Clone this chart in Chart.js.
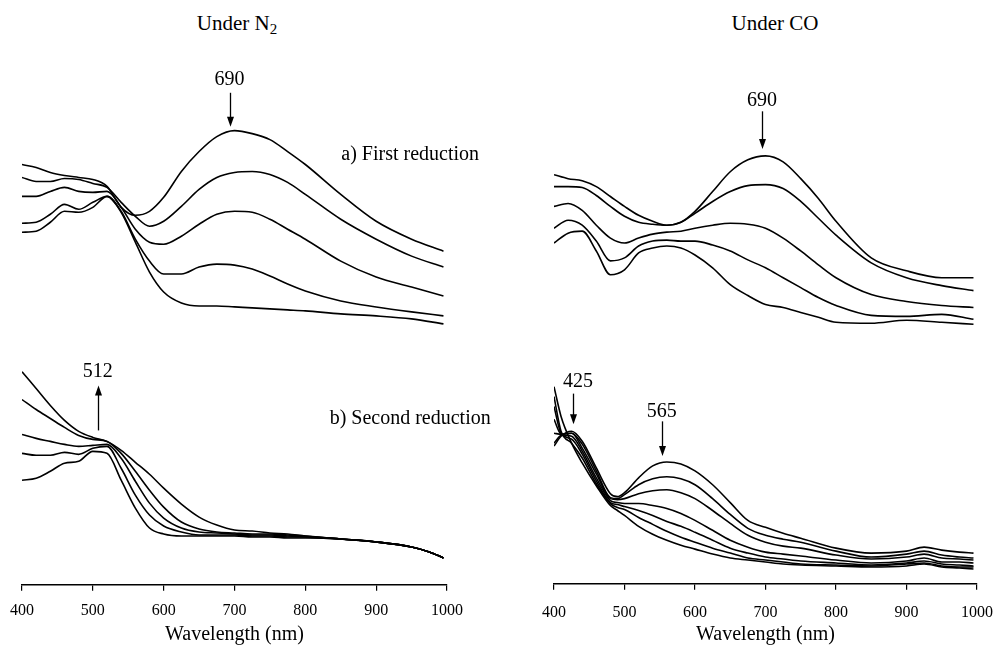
<!DOCTYPE html>
<html>
<head>
<meta charset="utf-8">
<script src="https://cdn.jsdelivr.net/npm/chart.js@4/dist/chart.umd.min.js"></script>
<style>
  html, body { margin:0; padding:0; background:#fff; }
  body { width:997px; height:647px; position:relative; overflow:hidden; font-family:"Liberation Serif","Times New Roman",serif; }
  canvas { position:absolute; top:0; }
  .ttl { position:absolute; top:11px; font-size:21px; color:#000; white-space:nowrap; transform:translateX(-50%); }
  .ttl sub { font-size:15px; vertical-align:-4px; line-height:0; }
</style>
</head>
<body>
<div class="ttl" style="left:237px">Under N<sub>2</sub></div>
<div class="ttl" style="left:775px">Under CO</div>
<canvas id="cN2" width="500" height="647" style="left:0"></canvas>
<canvas id="cCO" width="530" height="647" style="left:500px"></canvas>
<script>
// ---------- Under N2, a) first reduction ----------
const n2FirstWl = [400,420,440,460,480,500,520,540,560,580,600,625,650,675,700,725,750,775,800,850,900,950,995];
const n2First1 = [4.22,4.19,4.14,4.11,4.09,4.07,4.00,3.79,3.71,3.75,3.89,4.15,4.35,4.50,4.56,4.53,4.47,4.35,4.22,3.92,3.65,3.47,3.35];
const n2First2 = [4.09,4.05,4.05,4.08,4.07,4.03,3.99,3.84,3.70,3.60,3.65,3.80,3.97,4.09,4.14,4.15,4.12,4.04,3.92,3.67,3.47,3.30,3.19];
const n2First3 = [3.90,3.90,3.95,3.99,3.95,3.94,3.95,3.79,3.57,3.44,3.42,3.50,3.62,3.72,3.75,3.74,3.67,3.57,3.47,3.25,3.09,2.99,2.90];
const n2First4 = [3.63,3.64,3.72,3.82,3.77,3.84,3.90,3.75,3.47,3.25,3.12,3.12,3.19,3.22,3.21,3.17,3.10,3.02,2.95,2.85,2.79,2.74,2.70];
const n2First5 = [3.54,3.55,3.64,3.75,3.74,3.79,3.90,3.74,3.44,3.14,2.94,2.83,2.80,2.80,2.79,2.78,2.77,2.76,2.75,2.72,2.70,2.67,2.62];

// ---------- Under N2, b) second reduction ----------
const n2SecondWl = [400,420,440,460,480,500,520,540,560,580,600,625,650,675,700,725,750,775,800,850,900,950,975,995];
const n2Second1 = [2.14,1.97,1.80,1.65,1.54,1.48,1.44,1.35,1.23,1.11,0.97,0.81,0.68,0.60,0.55,0.54,0.52,0.51,0.49,0.46,0.43,0.38,0.33,0.27];
const n2Second2 = [1.86,1.76,1.67,1.58,1.50,1.46,1.44,1.32,1.14,0.95,0.78,0.63,0.56,0.53,0.52,0.51,0.51,0.50,0.49,0.46,0.43,0.38,0.33,0.27];
const n2Second3 = [1.51,1.47,1.44,1.41,1.39,1.40,1.41,1.27,1.04,0.82,0.67,0.57,0.53,0.52,0.51,0.50,0.50,0.49,0.48,0.46,0.43,0.38,0.33,0.27];
const n2Second4 = [1.32,1.30,1.30,1.33,1.31,1.37,1.39,1.17,0.90,0.70,0.59,0.53,0.50,0.50,0.50,0.49,0.49,0.48,0.48,0.46,0.43,0.38,0.33,0.27];
const n2Second5 = [1.05,1.07,1.14,1.22,1.24,1.34,1.32,1.05,0.77,0.57,0.51,0.49,0.49,0.49,0.49,0.48,0.48,0.47,0.47,0.46,0.43,0.38,0.33,0.27];

// ---------- Under CO, a) first reduction ----------
const coFirstWl = [400,420,440,460,480,500,520,540,560,580,600,625,650,675,700,725,750,775,800,850,900,950,995];
const coFirst1 = [4.13,4.09,4.07,4.01,3.91,3.81,3.72,3.66,3.62,3.65,3.76,3.96,4.16,4.28,4.32,4.26,4.09,3.89,3.66,3.29,3.16,3.09,3.09];
const coFirst2 = [4.01,4.01,4.00,3.92,3.81,3.71,3.65,3.63,3.62,3.65,3.74,3.86,3.96,4.02,4.03,3.99,3.86,3.69,3.52,3.24,3.09,3.01,2.96];
const coFirst3 = [3.81,3.84,3.77,3.62,3.49,3.44,3.49,3.53,3.55,3.56,3.59,3.62,3.64,3.63,3.59,3.49,3.36,3.22,3.09,2.92,2.85,2.81,2.79];
const coFirst4 = [3.59,3.67,3.62,3.46,3.26,3.29,3.41,3.46,3.47,3.46,3.46,3.42,3.36,3.27,3.19,3.09,2.99,2.89,2.81,2.71,2.70,2.72,2.67];
const coFirst5 = [3.44,3.54,3.56,3.36,3.12,3.17,3.34,3.39,3.41,3.39,3.32,3.19,3.02,2.91,2.82,2.79,2.74,2.69,2.64,2.63,2.66,2.64,2.62];

// ---------- Under CO, b) second reduction ----------
const coSecondWl = [400,410,425,440,460,480,490,500,520,540,560,580,600,625,650,675,700,725,750,800,850,900,925,950,975,995];
const coSecond1 = [1.39,1.49,1.54,1.44,1.17,0.91,0.88,0.92,1.07,1.19,1.23,1.21,1.14,1.00,0.82,0.64,0.57,0.51,0.46,0.36,0.31,0.33,0.37,0.34,0.32,0.31];
const coSecond2 = [1.42,1.50,1.52,1.41,1.14,0.87,0.86,0.90,1.00,1.06,1.08,1.06,1.00,0.86,0.70,0.56,0.49,0.45,0.42,0.33,0.27,0.30,0.33,0.29,0.27,0.26];
const coSecond3 = [1.52,1.51,1.52,1.37,1.11,0.86,0.85,0.86,0.91,0.94,0.95,0.92,0.86,0.74,0.61,0.49,0.42,0.38,0.36,0.29,0.25,0.27,0.30,0.26,0.25,0.24];
const coSecond4 = [1.66,1.51,1.49,1.34,1.07,0.84,0.82,0.81,0.81,0.79,0.76,0.71,0.64,0.54,0.44,0.37,0.32,0.30,0.28,0.24,0.21,0.23,0.26,0.22,0.22,0.21];
const coSecond5 = [1.79,1.52,1.46,1.31,1.04,0.82,0.80,0.78,0.74,0.69,0.63,0.58,0.52,0.44,0.36,0.31,0.27,0.25,0.23,0.21,0.19,0.21,0.23,0.20,0.19,0.18];
const coSecond6 = [1.89,1.54,1.42,1.27,1.01,0.81,0.77,0.75,0.67,0.60,0.53,0.47,0.42,0.36,0.31,0.26,0.24,0.22,0.20,0.19,0.18,0.20,0.21,0.18,0.17,0.17];
const coSecond7 = [1.99,1.69,1.42,1.22,0.99,0.79,0.74,0.69,0.58,0.50,0.44,0.39,0.35,0.30,0.26,0.24,0.22,0.20,0.19,0.18,0.17,0.18,0.20,0.17,0.16,0.15];

// ---------- axis ticks and annotations ----------
const xTicks = [400,500,600,700,800,900,1000];
const n2Arrows = [
  {text:'690', nm:693, tail:4.94, tip:4.60, textY:5.07},
  {text:'512', nm:507, tail:1.55, tip:2.00, textY:2.14}
];
const n2Notes = [
  {text:'a) First reduction', nm:948, y:4.32},
  {text:'b) Second reduction', nm:948, y:1.67}
];
const coArrows = [
  {text:'690', nm:695, tail:4.77, tip:4.39, textY:4.88},
  {text:'425', nm:427, tail:1.92, tip:1.61, textY:2.04, textNm:434},
  {text:'565', nm:553, tail:1.64, tip:1.29, textY:1.74}
];
const coNotes = [];

const SERIF = '"Liberation Serif", "Times New Roman", serif';

const arrowPlugin = {
  id: 'arrows',
  afterDatasetsDraw(chart, args, opts) {
    const ctx = chart.ctx, xs = chart.scales.x, ys = chart.scales.y;
    ctx.save();
    ctx.fillStyle = '#000'; ctx.strokeStyle = '#000'; ctx.lineWidth = 1.3;
    ctx.font = '20px ' + SERIF;
    ctx.textAlign = 'center'; ctx.textBaseline = 'middle';
    (opts.arrows || []).forEach(a => {
      const px = Math.round(xs.getPixelForValue(a.nm)) + 0.5;
      const y0 = ys.getPixelForValue(a.tail), y1 = ys.getPixelForValue(a.tip);
      const dir = Math.sign(y1 - y0);
      ctx.beginPath(); ctx.moveTo(px, y0); ctx.lineTo(px, y1 - dir * 8); ctx.stroke();
      ctx.beginPath(); ctx.moveTo(px, y1); ctx.lineTo(px - 3.5, y1 - dir * 10); ctx.lineTo(px + 3.5, y1 - dir * 10); ctx.closePath(); ctx.fill();
      ctx.fillText(a.text, xs.getPixelForValue(a.textNm !== undefined ? a.textNm : a.nm), ys.getPixelForValue(a.textY));
    });
    (opts.notes || []).forEach(n => {
      ctx.fillText(n.text, xs.getPixelForValue(n.nm), ys.getPixelForValue(n.y));
    });
    ctx.restore();
  }
};

function makeSets(wl, series) {
  return series.map(s => ({
    data: wl.map((w, i) => ({x: w, y: s[i]})),
    borderColor: '#000', borderWidth: 1.6, pointRadius: 0, fill: false,
    cubicInterpolationMode: 'monotone'
  }));
}

function makeChart(id, datasets, pad, yMax, tickPad, titlePad, arrows, notes) {
  return new Chart(document.getElementById(id), {
    type: 'line',
    data: { datasets },
    plugins: [arrowPlugin],
    options: {
      responsive: false, animation: false, devicePixelRatio: 1,
      layout: { padding: pad },
      plugins: { legend: {display:false}, tooltip: {enabled:false}, arrows: {arrows, notes} },
      scales: {
        x: {
          type: 'linear', min: 400, max: 1000,
          afterBuildTicks: sc => { sc.ticks = xTicks.map(v => ({value: v})); },
          ticks: { color:'#000', font:{family:SERIF, size:16}, padding:tickPad, maxRotation:0, callback: v => String(v) },
          grid: { drawOnChartArea:false, drawTicks:true, tickLength:6, color:'#000', lineWidth:1.2 },
          border: { display:true, color:'#000', width:1.5 },
          title: { display:true, text:'Wavelength (nm)', color:'#000', font:{family:SERIF, size:20}, padding:{top:titlePad, bottom:0} }
        },
        y: { display:false, min:0, max:yMax }
      }
    }
  });
}

makeChart('cN2',
  makeSets(n2FirstWl, [n2First1,n2First2,n2First3,n2First4,n2First5])
    .concat(makeSets(n2SecondWl, [n2Second1,n2Second2,n2Second3,n2Second4,n2Second5])),
  {left:22, right:53, top:40, bottom:0}, 5.47, 10, -7, n2Arrows, n2Notes);

makeChart('cCO',
  makeSets(coFirstWl, [coFirst1,coFirst2,coFirst3,coFirst4,coFirst5])
    .concat(makeSets(coSecondWl, [coSecond1,coSecond2,coSecond3,coSecond4,coSecond5,coSecond6,coSecond7])),
  {left:54, right:53, top:40, bottom:0}, 5.49, 13, -12, coArrows, coNotes);
</script>
</body>
</html>
